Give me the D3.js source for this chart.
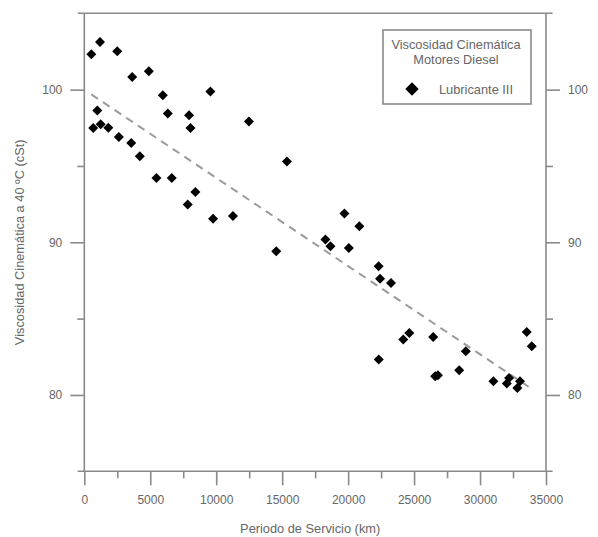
<!DOCTYPE html>
<html>
<head>
<meta charset="utf-8">
<script src="https://cdn.jsdelivr.net/npm/d3@7"></script>
<style>
  html, body { margin: 0; padding: 0; background: #fff; }
  svg { display: block; font-family: "Liberation Sans", Arial, sans-serif; }
</style>
</head>
<body>
<svg id="chart" width="598" height="537"></svg>
<script>
// Data: service period (km) and kinematic viscosity at 40 ºC (cSt)
const serviceKm = [
  530, 1190, 2500, 3630, 4890, 5950, 9560, 985, 680, 1240, 1820, 2620, 3560, 4210,
  6330, 7940, 8050, 5470, 6630, 8420, 7840, 12480, 15360, 9760, 11270, 14550,
  19720, 20850, 18280, 18660, 20050, 22310, 22420, 23250, 24640, 24180, 26450,
  22320, 28920, 28420, 26600, 26810, 31010, 32200, 32030, 33030, 32830, 33540, 33920
];
const viscosity = [
  102.31, 103.12, 102.51, 100.83, 101.20, 99.63, 99.87, 98.64, 97.49, 97.73, 97.51, 96.90, 96.50, 95.63,
  98.43, 98.32, 97.49, 94.21, 94.21, 93.29, 92.47, 97.92, 95.30, 91.55, 91.72, 89.41,
  91.88, 91.05, 90.18, 89.74, 89.63, 88.43, 87.62, 87.33, 84.06, 83.63, 83.80,
  82.32, 82.86, 81.62, 81.22, 81.29, 80.90, 81.11, 80.75, 80.90, 80.46, 84.13, 83.19
];
// Linear trend (dashed) endpoints
const trendKm = [530, 33920];
const trendVisc = [99.69, 80.40];

const xTicks = [0, 5000, 10000, 15000, 20000, 25000, 30000, 35000];
const xMinorTicks = [2500, 7500, 12500, 17500, 22500, 27500, 32500];
const yTicks = [80, 90, 100];
const yMinorTicks = [85, 95];

const legendTitle = ["Viscosidad Cinemática", "Motores Diesel"];
const seriesName = "Lubricante III";
const xLabel = "Periodo de Servicio (km)";
const yLabel = "Viscosidad Cinemática a 40 ºC (cSt)";

const axisColor = "#8a8a8a";
const textColor = "#666666";

const svg = d3.select("#chart");
const x = d3.scaleLinear().domain([0, 35000]).range([84.3, 546]);
const y = d3.scaleLinear().domain([75, 105]).range([471.3, 13.3]);

// Frame lines (extend slightly beyond the axis ends, as in the reference)
const frame = svg.append("g").attr("stroke", axisColor).attr("stroke-width", 1.6);
frame.append("line").attr("x1", x(-500)).attr("x2", x(35500)).attr("y1", y(105)).attr("y2", y(105));
frame.append("line").attr("x1", x(-500)).attr("x2", x(35500)).attr("y1", y(75)).attr("y2", y(75));
frame.append("line").attr("x1", x(0)).attr("x2", x(0)).attr("y1", y(105)).attr("y2", y(75));
frame.append("line").attr("x1", x(35000)).attr("x2", x(35000)).attr("y1", y(105)).attr("y2", y(75));

function styleAxis(g) {
  g.select(".domain").remove();
  g.selectAll(".tick line").attr("stroke", axisColor).attr("stroke-width", 1.6);
  g.selectAll(".tick text").attr("fill", textColor).attr("font-size", 12)
    .attr("font-family", "Liberation Sans, Arial, sans-serif");
}

// Bottom axis
svg.append("g").attr("transform", `translate(0,${y(75)})`)
  .call(d3.axisBottom(x).tickValues(xTicks).tickFormat(d3.format("d")).tickSize(14).tickPadding(10).tickSizeOuter(0))
  .call(styleAxis);
svg.append("g").attr("transform", `translate(0,${y(75)})`)
  .call(d3.axisBottom(x).tickValues(xMinorTicks).tickFormat("").tickSize(7).tickSizeOuter(0))
  .call(styleAxis);

// Left axis
svg.append("g").attr("transform", `translate(${x(0)},0)`)
  .call(d3.axisLeft(y).tickValues(yTicks).tickSize(14).tickPadding(8).tickSizeOuter(0))
  .call(styleAxis);
svg.append("g").attr("transform", `translate(${x(0)},0)`)
  .call(d3.axisLeft(y).tickValues(yMinorTicks).tickFormat("").tickSize(7).tickSizeOuter(0))
  .call(styleAxis);

// Right axis
svg.append("g").attr("transform", `translate(${x(35000)},0)`)
  .call(d3.axisRight(y).tickValues(yTicks).tickSize(14).tickPadding(8).tickSizeOuter(0))
  .call(styleAxis);
svg.append("g").attr("transform", `translate(${x(35000)},0)`)
  .call(d3.axisRight(y).tickValues(yMinorTicks).tickFormat("").tickSize(7).tickSizeOuter(0))
  .call(styleAxis);

// Axis labels
svg.append("text").attr("x", (x(0) + x(35000)) / 2 - 5).attr("y", 533)
  .attr("text-anchor", "middle").attr("fill", textColor).attr("font-size", 12.8).text(xLabel);
svg.append("text").attr("transform", `translate(24,${(y(75) + y(105)) / 2}) rotate(-90)`)
  .attr("text-anchor", "middle").attr("fill", textColor).attr("font-size", 12.8).text(yLabel);

// Trend line
const line = d3.line().x(d => x(d[0])).y(d => y(d[1]));
svg.append("path").datum(d3.zip(trendKm, trendVisc)).attr("d", line)
  .attr("fill", "none").attr("stroke", "#9a9a9a").attr("stroke-width", 2)
  .attr("stroke-dasharray", "8,6");

// Points
const diamond = d3.symbol().type(d3.symbolSquare).size(50);
svg.append("g").selectAll("path").data(d3.zip(serviceKm, viscosity)).join("path")
  .attr("d", diamond())
  .attr("transform", d => `translate(${x(d[0])},${y(d[1])}) rotate(45)`)
  .attr("fill", "#000");

// Legend
const lg = svg.append("g");
lg.append("rect").attr("x", 383).attr("y", 30).attr("width", 148).attr("height", 74)
  .attr("fill", "#fff").attr("stroke", axisColor).attr("stroke-width", 1.6);
lg.selectAll("text.title").data(legendTitle).join("text").attr("class", "title")
  .attr("x", 456).attr("y", (d, i) => 49 + i * 15)
  .attr("text-anchor", "middle").attr("fill", textColor).attr("font-size", 12.8).text(d => d);
lg.append("path").attr("d", d3.symbol().type(d3.symbolSquare).size(90)())
  .attr("transform", "translate(412,89) rotate(45)").attr("fill", "#000");
lg.append("text").attr("x", 439).attr("y", 93.5).attr("fill", textColor).attr("font-size", 12.8).text(seriesName);
</script>
</body>
</html>
